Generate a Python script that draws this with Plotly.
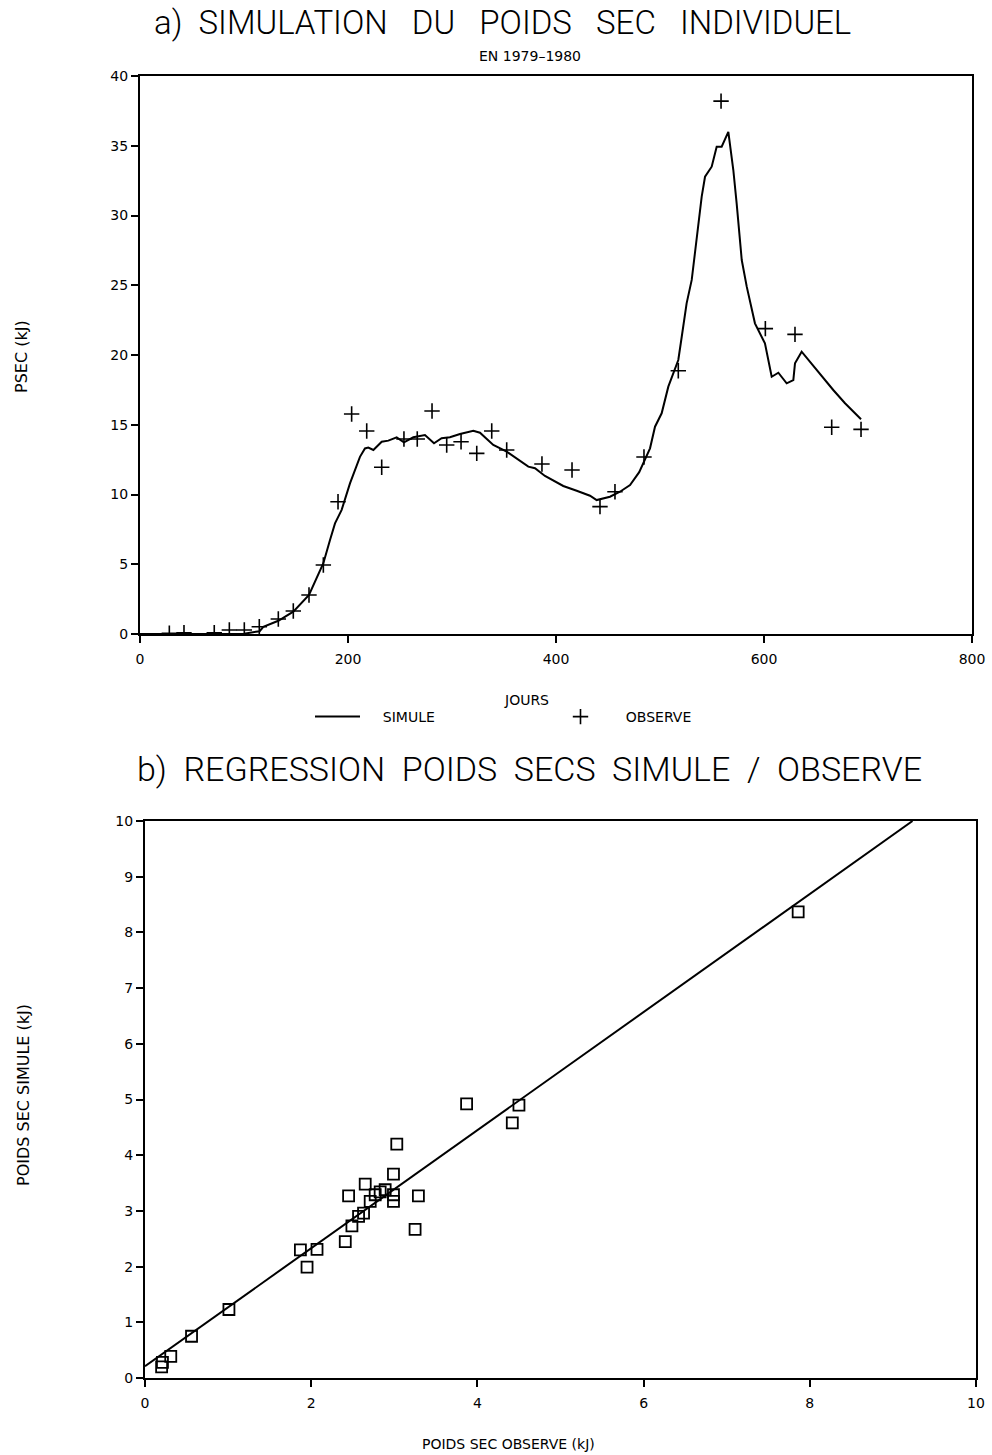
import numpy as np
import plotly.graph_objects as go

# ---- panel a) data ----
SIM_DAYS = [0, 50, 100, 115, 118.6, 133, 147.4, 162.5, 176.3, 182.7, 187.5, 193.9, 201.9,
            211.5, 216.3, 219.5, 224.4, 232.4, 238.8, 246.8, 253.8, 262.8, 274, 282.7, 290,
            298, 307.7, 320.5, 326.9, 339.7, 352.6, 373.4, 379.8, 389.4, 407, 419.9, 432.7,
            439.1, 451.9, 461.5, 471.2, 480, 490.4, 495.2, 501.6, 508, 517.6, 520.9, 525.6,
            530.5, 535.3, 540.1, 543.3, 549.7, 554.5, 559.3, 565.7, 570.5, 573.7, 578.6,
            583.4, 591.3, 600.9, 607.4, 613.8, 621.8, 628.2, 629.8, 636.2, 650.6, 666.6,
            677.9, 693.3]
SIM_PSEC = [0, 0, 0.02, 0.2, 0.52, 0.95, 1.6, 2.8, 5.07, 6.74, 7.93, 8.9, 10.8,
            12.7, 13.3, 13.36, 13.19, 13.78, 13.86, 14.1, 13.74, 14.1, 14.26, 13.67, 14.03,
            14.1, 14.34, 14.57, 14.43, 13.55, 13.07, 12.0, 11.88, 11.33, 10.61, 10.27, 9.91,
            9.6, 9.84, 10.2, 10.68, 11.6, 13.31, 14.86, 15.82, 17.73, 19.64, 21.31, 23.7,
            25.38, 28.48, 31.35, 32.78, 33.5, 34.93, 34.93, 36.0, 33.26, 30.87, 26.81,
            24.9, 22.27, 20.84, 18.44, 18.73, 17.97, 18.2, 19.4, 20.24, 18.92, 17.49,
            16.54, 15.39]

OBS_DAYS = [28.2, 42.3, 71.4, 85.9, 100.3, 114.7, 133.0, 147.4, 162.5, 176.3, 190.4,
            203.5, 218, 232.4, 253.8, 266.6, 280.8, 294.9, 308.7, 323.8, 338.2, 352.6,
            386.5, 415.4, 442.3, 456.7, 484.6, 517.6, 558.7, 601.3, 629.8, 665.1, 693.3]
OBS_PSEC = [0.05, 0.09, 0.09, 0.29, 0.29, 0.52, 1.08, 1.65, 2.8, 4.95, 9.48,
            15.77, 14.55, 11.95, 13.98, 13.98, 15.99, 13.55, 13.78, 12.95, 14.55, 13.19,
            12.19, 11.76, 9.13, 10.2, 12.69, 18.87, 38.2, 21.89, 21.48, 14.82, 14.67]

X_TICKS_A = [0, 200, 400, 600, 800]
Y_TICKS_A = [0, 5, 10, 15, 20, 25, 30, 35, 40]

# ---- panel b) data ----
OBS_KJ = [0.2, 0.21, 0.31, 0.56, 1.01, 1.87, 1.95, 2.07, 2.41, 2.45, 2.49, 2.57, 2.63,
          2.65, 2.71, 2.77, 2.83, 2.89, 2.99, 2.99, 2.99, 3.03, 3.25, 3.29, 3.87, 4.42,
          4.5, 7.86]
SIM_KJ = [0.2, 0.28, 0.39, 0.75, 1.23, 2.30, 1.99, 2.31, 2.45, 3.27, 2.73, 2.90, 2.96,
          3.48, 3.17, 3.29, 3.34, 3.38, 3.29, 3.17, 3.66, 4.20, 2.67, 3.27, 4.92, 4.58,
          4.90, 8.37]
REG_INTERCEPT = 0.21
REG_SLOPE = 1.06

X_TICKS_B = [0, 2, 4, 6, 8, 10]
Y_TICKS_B = list(range(0, 11))

W, H = 992, 1455
LBL_FAMILY = "DejaVu Sans, Arial"
LBL_FONT = dict(family=LBL_FAMILY, size=14, color="black")
VLBL_FONT = dict(family=LBL_FAMILY, size=16, color="black")
TICK_FONT = dict(family=LBL_FAMILY, size=14, color="black")
TITLE_FONT = dict(family="Roboto, Liberation Sans, sans-serif", weight=300, color="black")
NB = "\u00a0"


def px_x(p):
    return p / W


def px_y(p):
    return 1 - p / H


fig = go.Figure()

fig.add_trace(go.Scatter(x=SIM_DAYS, y=SIM_PSEC, mode="lines", name=NB * 4 + "SIMULE",
                         line=dict(color="black", width=2), xaxis="x", yaxis="y"))
fig.add_trace(go.Scatter(x=OBS_DAYS, y=OBS_PSEC, mode="markers", name=NB * 4 + "OBSERVE",
                         marker=dict(symbol="cross-thin", size=11, color="black",
                                     line=dict(color="black", width=1.6)),
                         xaxis="x", yaxis="y"))

reg_x = np.array([0.0, (10 - REG_INTERCEPT) / REG_SLOPE])
reg_y = REG_INTERCEPT + REG_SLOPE * reg_x
fig.add_trace(go.Scatter(x=reg_x, y=reg_y, mode="lines", showlegend=False,
                         line=dict(color="black", width=2), xaxis="x2", yaxis="y2"))
fig.add_trace(go.Scatter(x=OBS_KJ, y=SIM_KJ, mode="markers", showlegend=False,
                         marker=dict(symbol="square-open", size=11, color="black",
                                     line=dict(color="black", width=1.8)),
                         xaxis="x2", yaxis="y2"))

axis_common = dict(showgrid=False, zeroline=False, showline=True, linecolor="black",
                   linewidth=2, mirror=True, ticks="outside", ticklen=7, tickwidth=1.5,
                   tickcolor="black", tickfont=TICK_FONT, automargin=False)

fig.update_layout(
    template="none",
    width=W, height=H,
    margin=dict(l=0, r=0, t=0, b=0),
    paper_bgcolor="white", plot_bgcolor="white",
    xaxis=dict(domain=[px_x(140), px_x(972)], range=[0, 800], tickvals=X_TICKS_A,
               anchor="y", ticklabelstandoff=4, **axis_common),
    yaxis=dict(domain=[px_y(634), px_y(76)], range=[0, 40], tickvals=Y_TICKS_A,
               anchor="x", **axis_common),
    xaxis2=dict(domain=[px_x(145), px_x(976)], range=[0, 10], tickvals=X_TICKS_B,
                anchor="y2", ticklabelstandoff=4, **axis_common),
    yaxis2=dict(domain=[px_y(1378), px_y(821)], range=[0, 10], tickvals=Y_TICKS_B,
                anchor="x2", **axis_common),
    legend=dict(orientation="h", x=px_x(310), y=px_y(717), xanchor="left", yanchor="middle",
                entrywidth=183, entrywidthmode="pixels", font=LBL_FONT,
                bgcolor="rgba(0,0,0,0)", itemwidth=45),
    showlegend=True,
)

# axis titles
fig.add_annotation(text="JOURS", xref="paper", yref="paper", x=px_x(526), y=px_y(700),
                   xanchor="center", yanchor="middle", showarrow=False, font=LBL_FONT)
fig.add_annotation(text="PSEC (kJ)", xref="paper", yref="paper", x=px_x(21), y=px_y(357),
                   xanchor="center", yanchor="middle", showarrow=False, textangle=-90,
                   font=VLBL_FONT)
fig.add_annotation(text="POIDS SEC OBSERVE (kJ)", xref="paper", yref="paper", x=px_x(508),
                   y=px_y(1444), xanchor="center", yanchor="middle", showarrow=False,
                   font=LBL_FONT)
fig.add_annotation(text="POIDS SEC SIMULE (kJ)", xref="paper", yref="paper", x=px_x(23),
                   y=px_y(1095), xanchor="center", yanchor="middle", showarrow=False,
                   textangle=-90, font=VLBL_FONT)

# titles
G = NB * 3
fig.add_annotation(text="a)" + NB * 2 + "SIMULATION" + G + "DU" + G + "POIDS" + G +
                   "SEC" + G + "INDIVIDUEL",
                   xref="paper", yref="paper", x=px_x(502), y=px_y(23),
                   xanchor="center", yanchor="middle", showarrow=False,
                   font=dict(size=33, **TITLE_FONT))
fig.add_annotation(text="EN 1979\u20131980", xref="paper", yref="paper",
                   x=px_x(530), y=px_y(56), xanchor="center", yanchor="middle", showarrow=False,
                   font=dict(family=LBL_FAMILY, size=14, color="black"))
G2 = NB * 2
fig.add_annotation(text="b)" + NB * 2 + "REGRESSION" + G2 + "POIDS" + G2 + "SECS" + G2 +
                   "SIMULE" + G2 + "/" + G2 + "OBSERVE",
                   xref="paper", yref="paper", x=px_x(529), y=px_y(769),
                   xanchor="center", yanchor="middle", showarrow=False,
                   font=dict(size=34, **TITLE_FONT))

fig.write_html("out.html", config={"displayModeBar": False},
               post_script="document.body.style.margin='0px';")
